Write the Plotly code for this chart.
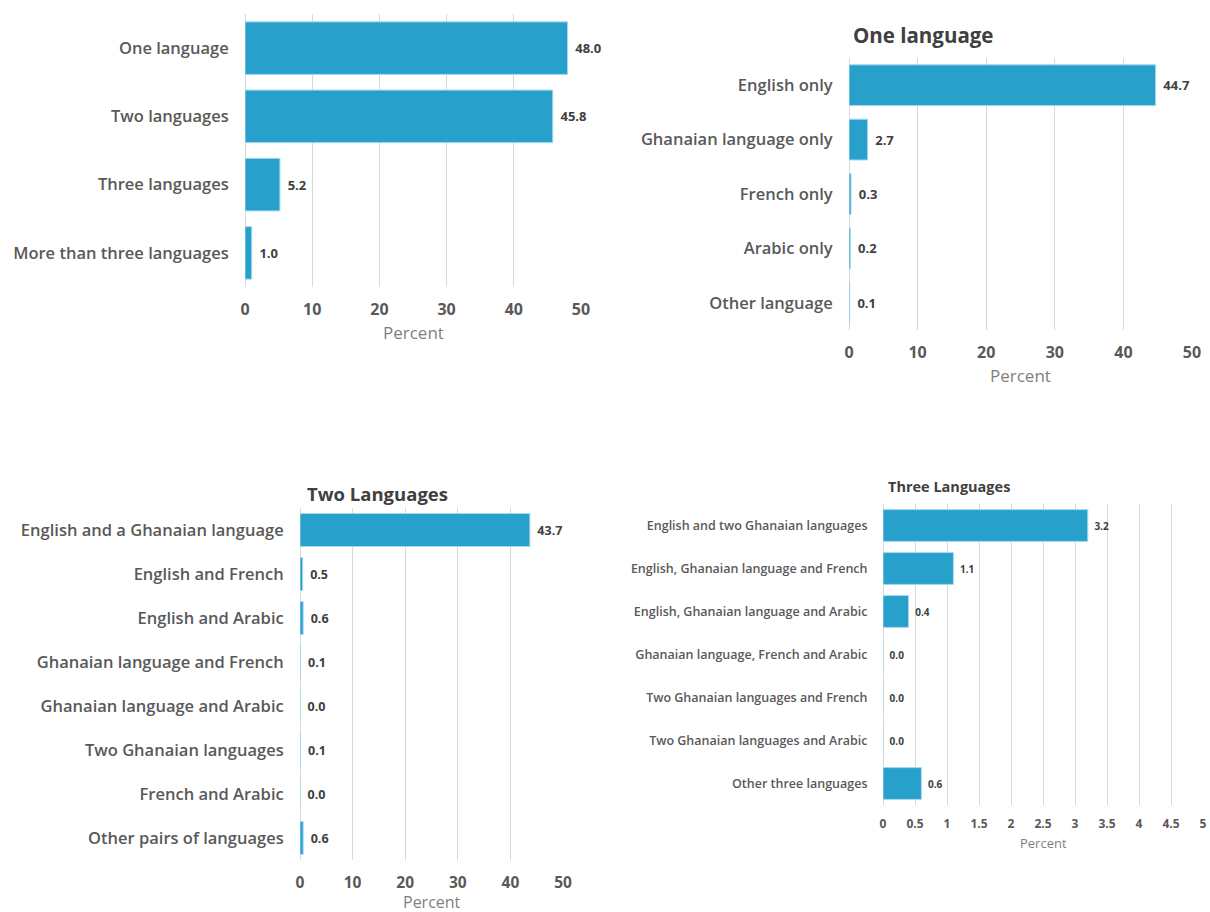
import plotly.graph_objects as go

# ---- data ----
num_cats = ["One language", "Two languages", "Three languages", "More than three languages"]
num_vals = [48.0, 45.8, 5.2, 1.0]

one_cats = ["English only", "Ghanaian language only", "French only", "Arabic only", "Other language"]
one_vals = [44.7, 2.7, 0.3, 0.2, 0.1]

two_cats = ["English and a Ghanaian language", "English and French", "English and Arabic",
            "Ghanaian language and French", "Ghanaian language and Arabic",
            "Two Ghanaian languages", "French and Arabic", "Other pairs of languages"]
two_vals = [43.7, 0.5, 0.6, 0.1, 0.0, 0.1, 0.0, 0.6]

three_cats = ["English and two Ghanaian languages", "English, Ghanaian language and French",
              "English, Ghanaian language and Arabic", "Ghanaian language, French and Arabic",
              "Two Ghanaian languages and French", "Two Ghanaian languages and Arabic",
              "Other three languages"]
three_vals = [3.2, 1.1, 0.4, 0.0, 0.0, 0.0, 0.6]

titles = ["", "One language", "Two Languages", "Three Languages"]

W, H = 1210, 912
FONT = "Open Sans"
BAR = "#28a0cc"
EDGE = "#a8d8ee"
LBL = "#595959"
VAL = "#404040"
GRID = "#d9d9d9"

# panel specs: (cats, vals, x0px, x1px, ytop, ybot, xmax, dtick, catsize, ticksize, valsize,
#               bargap, titlesize, titlepos, pctsize, pcty, catweight)
panels = [
    (num_cats, num_vals, 245, 581, 14, 287, 50, 10, 16.5, 16, 13, 0.23, 0, None, 17, 333, 600),
    (one_cats, one_vals, 849, 1192, 58, 330, 50, 10, 16.5, 16, 13, 0.25, 20.5, (851, 35), 17, 376, 600),
    (two_cats, two_vals, 300, 563, 508, 860, 50, 10, 16.5, 15.5, 12.5, 0.25, 18.5, (305, 493), 16, 902, 600),
    (three_cats, three_vals, 883, 1203, 504, 805, 5, 0.5, 12.5, 12, 10, 0.26, 14.5, (886, 486), 13, 843, 600),
]

fig = go.Figure()
annotations = []
for i, (cats, vals, x0, x1, yt, yb, xmax, dt, cs, ts, vs, bg, tsz, tpos, psz, py, cw) in enumerate(panels):
    n = i + 1
    xa = "x" if n == 1 else f"x{n}"
    ya = "y" if n == 1 else f"y{n}"
    fig.add_trace(go.Bar(
        x=vals, y=cats, orientation="h", xaxis=xa, yaxis=ya, width=1 - bg,
        marker=dict(color=BAR, line=dict(color=EDGE, width=1)),
        texttemplate=" \u200a%{x:.1f}", textposition="outside",
        textfont=dict(family=FONT, size=vs, color=VAL, weight="bold"),
        constraintext="none", cliponaxis=False, showlegend=False,
    ))
    xkey = "xaxis" if n == 1 else f"xaxis{n}"
    ykey = "yaxis" if n == 1 else f"yaxis{n}"
    fig.update_layout(**{
        xkey: dict(domain=[x0 / W, x1 / W], range=[0, xmax], dtick=dt, anchor=ya,
                   showgrid=True, gridcolor=GRID, gridwidth=1, zeroline=True,
                   zerolinecolor=GRID, zerolinewidth=1, showline=False,
                   ticks="outside", ticklen=8, tickcolor="rgba(0,0,0,0)",
                   tickfont=dict(family=FONT, size=ts, color=LBL, weight="bold"),
                   fixedrange=True, automargin=False),
        ykey: dict(domain=[1 - yb / H, 1 - yt / H], anchor=xa,
                   range=[len(cats) - 0.5, -0.5], type="category",
                   showgrid=False, zeroline=False, showline=False,
                   ticks="outside", ticklen=12, tickcolor="rgba(0,0,0,0)",
                   tickfont=dict(family=FONT, size=cs, color=LBL, weight=cw),
                   fixedrange=True, automargin=False),
    })
    if tpos is not None:
        annotations.append(dict(text=titles[i], x=tpos[0] / W, y=1 - tpos[1] / H,
                                xref="paper", yref="paper", xanchor="left", yanchor="middle",
                                showarrow=False,
                                font=dict(family=FONT, size=tsz, color=VAL, weight="bold")))
    annotations.append(dict(text="Percent", x=(x0 + x1) / 2 / W, y=1 - py / H,
                            xref="paper", yref="paper", xanchor="center", yanchor="middle",
                            showarrow=False, font=dict(family=FONT, size=psz, color="#7f7f7f")))

fig.update_layout(
    width=W, height=H, margin=dict(l=0, r=0, t=0, b=0, autoexpand=False),
    paper_bgcolor="white", plot_bgcolor="white",
    annotations=annotations,
)

fig.write_html("out.html", config={"displayModeBar": False},
               post_script="document.body.style.margin='0px';document.body.style.overflow='hidden';")
